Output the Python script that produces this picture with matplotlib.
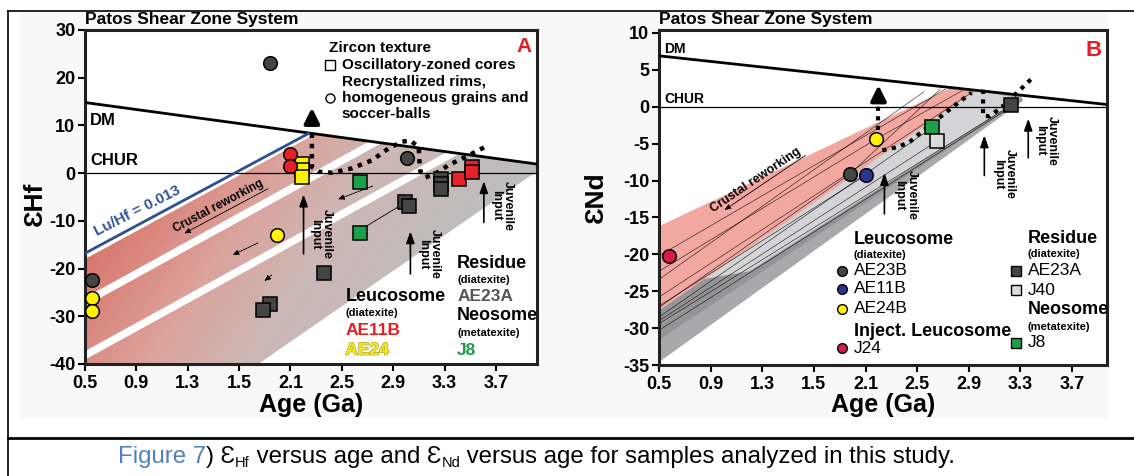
import numpy as np
import matplotlib
matplotlib.use("Agg")
import matplotlib.pyplot as plt
from matplotlib.patches import Polygon, Rectangle
from matplotlib.lines import Line2D
from matplotlib.colors import LinearSegmentedColormap
import matplotlib.patheffects as pe

plt.rcParams['font.family'] = ['Liberation Sans', 'DejaVu Sans']
plt.rcParams['axes.unicode_minus'] = False

W, H = 1134, 476

# ---------------- shared axis data ----------------
age_ticks = [0.5, 0.9, 1.3, 1.7, 2.1, 2.5, 2.9, 3.3, 3.7]
age_ticklabels = ['0.5', '0.9', '1.3', '1.5', '2.1', '2.5', '2.9', '3.3', '3.7']
hf_ticks = [-40, -30, -20, -10, 0, 10, 20, 30]
nd_ticks = [-35, -30, -25, -20, -15, -10, -5, 0, 5, 10]

# ---------------- panel A : epsilon Hf ----------------
dm_hf = (14.8, -3.665)          # value at 0.5 Ga, slope per Ga
luhf_age = [0.5, 2.24]
luhf_val = [-16.8, 8.3]
hf_band_top = [(-18.0, 14.6), (-27.9, 14.8), (-39.1, 14.8)]
hf_band_bot = [(-26.1, 14.8), (-37.3, 14.8), (-65.1, 18.6)]

ae11b_c_age, ae11b_c_hf = [2.10, 2.10], [4.1, 1.5]
ae11b_s_age, ae11b_s_hf = [3.41, 3.51, 3.51], [-1.3, 1.3, 0.3]
ae24_c_age, ae24_c_hf = [0.557, 0.557, 1.994], [-26.1, -28.9, -13.0]
ae24_s_age, ae24_s_hf = [2.19, 2.19, 2.19], [2.0, 0.6, -0.8]
ae23a_c_age, ae23a_c_hf = [1.94, 3.008, 0.557], [23.1, 3.1, -22.3]
ae23a_s_age = [3.27, 3.27, 3.27, 2.99, 3.02, 2.358, 1.94, 1.89]
ae23a_s_hf = [-1.3, -2.3, -3.4, -6.0, -6.9, -20.9, -27.5, -28.7]
j8_s_age, j8_s_hf = [2.644, 2.644], [-1.8, -12.6]

hf_dot_age = [2.267, 2.267, 2.319, 2.423, 2.579, 2.735, 2.865, 2.969, 3.034,
              3.099, 3.104, 3.112, 3.151, 3.229, 3.333, 3.463, 3.645]
hf_dot_val = [8.3, 1.3, 0.3, 0.1, 1.0, 2.7, 5.2, 6.6, 6.8,
              5.5, 2.7, 0.3, -0.9, -0.1, 1.7, 3.4, 5.9]
hf_juv = [(2.202, -17.5, -3.9, 2.34, -12.8), (3.034, -21.7, -11.6, 3.18, -17.0),
          (3.606, -10.9, -1.1, 3.75, -6.8)]
hf_small_arrows = [((1.943, -3.0), (1.254, -12.9)), ((1.865, -14.4), (1.63, -17.4)),
                   ((1.97, -21.0), (1.88, -23.0)), ((2.76, -2.5), (2.45, -5.7)),
                   ((2.98, -6.4), (2.60, -12.6))]

# ---------------- panel B : epsilon Nd ----------------
dm_nd = (6.9, -1.902)
nd_pink_top = (-16.2, 8.3)
nd_pink_bot = (-27.6, 12.18)
nd_light_bot = (-31.6, 11.58)
nd_gray_bot = (-34.6, 12.55)

nd_lines = [((0.5, -20.2), (2.72, 2.4)), ((0.5, -23.4), (2.55, 2.0)),
            ((0.5, -25.8), (2.93, 2.0)), ((0.5, -22.3), (2.18, -4.4)),
            ((0.5, -27.2), (1.98, -9.1)), ((0.5, -28.5), (2.62, -2.8)),
            ((0.5, -29.4), (3.23, 0.2)), ((0.5, -30.3), (3.23, 0.0)),
            ((0.5, -27.0), (2.10, -9.3)), ((0.5, -29.0), (2.65, -4.7)),
            ((2.18, -4.4), (2.85, 2.2)), ((1.98, -9.1), (2.68, 2.4))]

nd_circ_age = [1.98, 2.10, 2.18, 0.58]
nd_circ_val = [-9.1, -9.3, -4.4, -20.2]
nd_circ_col = ['#454545', '#2b3590', '#fff200', '#d81b4a']
nd_sq_age = [2.615, 2.65, 3.227]
nd_sq_val = [-2.8, -4.7, 0.18]
nd_sq_col = ['#1aa14a', '#dcdcdc', '#454545']

nd_dot1_age = [2.23, 2.34, 2.44, 2.54, 2.67, 2.80, 2.92]
nd_dot1_val = [-5.9, -5.5, -4.8, -3.3, -1.5, 0.3, 1.9]
nd_dot2_age = [3.01, 3.01, 3.06, 3.12, 3.17]
nd_dot2_val = [2.3, -1.2, -1.3, -0.5, 0.2]
nd_dot3_age = [3.25, 3.38]
nd_dot3_val = [1.5, 3.7]
nd_juv = [(2.246, -14.9, -8.6, 2.41, -12.0), (3.02, -9.7, -3.5, 3.17, -9.1),
          (3.36, -7.3, -1.25, 3.50, -4.6)]


def val(p, a):
    return p[0] + p[1] * (np.asarray(a) - 0.5)


def cross(p, q):
    return 0.5 + (q[0] - p[0]) / (p[1] - q[1])


def band_poly(top, bot, dm, a_max):
    a_t, a_b = cross(top, dm), cross(bot, dm)
    verts = [(0.5, val(top, 0.5)), (a_t, val(dm, a_t))]
    if a_b < a_max:
        verts.append((a_b, val(dm, a_b)))
    else:
        verts += [(a_max, val(dm, a_max)), (a_max, val(bot, a_max))]
    verts.append((0.5, val(bot, 0.5)))
    return verts


def style(ax, xmax, ylim, yticks):
    ax.set_xlim(0.5, xmax)
    ax.set_ylim(*ylim)
    ax.set_xticks(age_ticks)
    ax.set_xticklabels(age_ticklabels)
    ax.set_yticks(yticks)
    ax.set_yticklabels([str(v) for v in yticks])
    ax.tick_params(direction='out', length=5, width=1.5, labelsize=13)
    ax.tick_params(axis='x', pad=3)
    ax.tick_params(axis='y', pad=2)
    for lab in ax.get_xticklabels() + ax.get_yticklabels():
        lab.set_fontweight('bold')
    for s in ax.spines.values():
        s.set_linewidth(2.2)
        s.set_color('#222222')
    ax.set_facecolor('white')


def juvenile(ax, a, y0, y1, ta, tv):
    ax.annotate('', xy=(a, y1), xytext=(a, y0),
                arrowprops=dict(arrowstyle='-|>,head_length=0.7,head_width=0.25',
                                color='k', lw=1.2), zorder=6)
    ax.text(ta, tv, 'Juvenile\nInput', rotation=-90, ha='center', va='center',
            fontsize=9, fontweight='bold', linespacing=1.0, zorder=6)


fig = plt.figure(figsize=(W / 100, H / 100), dpi=100)
fig.add_artist(Rectangle((20 / W, 1 - 417 / H), 1087 / W, 405 / H,
                         transform=fig.transFigure, color='#f8f8f8', zorder=-10))
fig.add_artist(Line2D([8 / W, 1], [1 - 10.5 / H] * 2, color='k', lw=1.2))
fig.add_artist(Line2D([8 / W, 8 / W], [0, 1 - 10.5 / H], color='k', lw=1.2))
fig.add_artist(Line2D([8 / W, 1], [1 - 438 / H] * 2, color='k', lw=2))

ax_a = fig.add_axes([85 / W, 1 - 364 / H, 452 / W, 334 / H])
ax_b = fig.add_axes([659 / W, 1 - 365 / H, 448 / W, 335 / H])

# ======== panel A ========
band_cmap = LinearSegmentedColormap.from_list(
    'band', [(0, '#d9766d'), (0.35, '#dba39c'), (0.6, '#cdb7b4'), (1, '#bdbdbf')])
aa, vv = np.meshgrid(np.linspace(0.5, 4.02, 300), np.linspace(-40, 30, 300))
tt = 0.9 * (aa - 0.5) * 128.25 - 0.6 * vv * 4.77
for top, bot in zip(hf_band_top, hf_band_bot):
    poly = Polygon(band_poly(top, bot, dm_hf, 4.1), closed=True,
                   transform=ax_a.transData)
    im = ax_a.imshow(tt, extent=[0.5, 4.02, -40, 30], origin='lower',
                     aspect='auto', cmap=band_cmap, vmin=50, vmax=390,
                     interpolation='bilinear', zorder=1)
    im.set_clip_path(poly)

dm_x = np.array([0.5, 4.1])
ax_a.plot(dm_x, val(dm_hf, dm_x), color='k', lw=2, zorder=3)
ax_a.axhline(0, color='k', lw=0.9, zorder=3)
ax_a.plot(luhf_age, luhf_val, color='#2e4f92', lw=2, zorder=3)

ax_a.plot(hf_dot_age, hf_dot_val, color='k', lw=3.2, ls=(0, (1, 1.3)), zorder=4)
ax_a.annotate('', xy=(2.267, 14.3), xytext=(2.267, 9.6),
              arrowprops=dict(arrowstyle='-|>,head_length=0.9,head_width=0.45',
                              color='k', lw=3), zorder=4)
for (p0, p1) in hf_small_arrows:
    ax_a.annotate('', xy=p1, xytext=p0,
                  arrowprops=dict(arrowstyle='-|>,head_length=0.35,head_width=0.15',
                                  color='k', lw=0.7, ls=(0, (1.5, 1))), zorder=4)
for j in hf_juv:
    juvenile(ax_a, *j)

mk = dict(ls='none', mec='k', mew=1.1, zorder=7)
ax_a.plot(ae23a_c_age, ae23a_c_hf, 'o', ms=9.8, mfc='#454545', **mk)
ax_a.plot(ae23a_s_age, ae23a_s_hf, 's', ms=10.5, mfc='#454545', **mk)
ax_a.plot(j8_s_age, j8_s_hf, 's', ms=10.5, mfc='#1aa14a', **mk)
ax_a.plot(ae24_s_age, ae24_s_hf, 's', ms=10, mfc='#fff200', **mk)
ax_a.plot(ae24_c_age, ae24_c_hf, 'o', ms=9.8, mfc='#fff200', **mk)
ax_a.plot(ae11b_c_age, ae11b_c_hf, 'o', ms=9.8, mfc='#e8202a', **mk)
ax_a.plot(ae11b_s_age, ae11b_s_hf, 's', ms=10.5, mfc='#e8202a', **mk)

bold = dict(fontweight='bold', zorder=8)
ax_a.text(0.54, 11.1, 'DM', fontsize=12, va='center', **bold)
ax_a.text(0.54, 2.6, 'CHUR', fontsize=12, va='center', **bold)
ax_a.text(0.905, -8.0, 'Lu/Hf = 0.013', fontsize=11, color='#2e5597', rotation=27,
          ha='center', va='center', **bold)
ax_a.text(1.54, -7.0, 'Crustal reworking', fontsize=8.5, rotation=28,
          ha='center', va='center', **bold)
ax_a.text(2.397, 26.2, 'Zircon texture', fontsize=11, va='center', **bold)
ax_a.plot([2.41], [22.6], 's', ms=6.5, mfc='white', mec='k', mew=1, zorder=8)
ax_a.text(2.50, 22.6, 'Oscillatory-zoned cores', fontsize=11, va='center', **bold)
ax_a.text(2.50, 19.1, 'Recrystallized rims,', fontsize=11, va='center', **bold)
ax_a.plot([2.41], [15.7], 'o', ms=6.5, mfc='white', mec='k', mew=1, zorder=8)
ax_a.text(2.50, 15.7, 'homogeneous grains and', fontsize=11, va='center', **bold)
ax_a.text(2.50, 12.4, 'soccer-balls', fontsize=11, va='center', **bold)
ax_a.text(3.975, 26.5, 'A', fontsize=15, color='#e31e24', ha='right', va='center', **bold)

ax_a.text(3.398, -18.9, 'Residue', fontsize=13, va='center', **bold)
ax_a.text(3.398, -22.4, '(diatexite)', fontsize=8, va='center', **bold)
ax_a.text(3.398, -25.9, 'AE23A', fontsize=12.5, color='#555555', va='center', **bold)
ax_a.text(3.398, -29.8, 'Neosome', fontsize=13, va='center', **bold)
ax_a.text(3.398, -33.5, '(metatexite)', fontsize=8, va='center', **bold)
ax_a.text(3.398, -37.1, 'J8', fontsize=12.5, color='#1c9a48', va='center', **bold)
ax_a.text(2.527, -25.9, 'Leucosome', fontsize=13, va='center', **bold)
ax_a.text(2.527, -29.4, '(diatexite)', fontsize=8, va='center', **bold)
ax_a.text(2.527, -32.9, 'AE11B', fontsize=12.5, color='#e31e24', va='center', **bold)
ax_a.text(2.527, -37.1, 'AE24', fontsize=12.5, color='#f5ea1c', va='center',
          path_effects=[pe.withStroke(linewidth=1, foreground='#b0a640')], **bold)

style(ax_a, 4.02, (-40, 30), hf_ticks)

# ======== panel B ========
ax_b.add_patch(Polygon([(0.5, val(nd_gray_bot, 0.5)), (3.32, val(nd_gray_bot, 3.32)),
                        (3.30, val(dm_nd, 3.30)), (2.95, val(dm_nd, 2.95)),
                        (0.5, val(nd_pink_bot, 0.5))],
                       closed=True, fc='#a9a9ab', ec='none', zorder=1))
ax_b.add_patch(Polygon([(0.5, val(nd_pink_bot, 0.5)), (2.95, val(dm_nd, 2.95)),
                        (3.32, val(nd_light_bot, 3.32)), (0.5, val(nd_light_bot, 0.5))],
                       closed=True, fc='#959597', ec='none', zorder=1.1))
ax_b.add_patch(Polygon([(0.85, val(nd_pink_bot, 0.85)), (2.95, val(dm_nd, 2.95)),
                        (3.30, val(nd_light_bot, 3.30) + 0.3),
                        (1.2, val(nd_light_bot, 1.2) + 1.2)],
                       closed=True, fc='#d4d4d6', ec='none', zorder=1.2))
a_pk = cross(nd_pink_top, dm_nd)
ax_b.add_patch(Polygon([(0.5, val(nd_pink_top, 0.5)), (a_pk, val(dm_nd, a_pk)),
                        (2.95, val(dm_nd, 2.95)), (0.5, val(nd_pink_bot, 0.5))],
                       closed=True, fc='#f2a49c', ec='none', alpha=0.95, zorder=1.3))
for (p0, p1) in nd_lines:
    ax_b.plot([p0[0], p1[0]], [p0[1], p1[1]], color='k', lw=0.45, alpha=0.8, zorder=2)

dm_x = np.array([0.5, 4.0])
ax_b.plot(dm_x, val(dm_nd, dm_x), color='k', lw=2, zorder=3)
ax_b.axhline(0, color='k', lw=0.9, zorder=3)

dots = dict(color='k', lw=3, ls=(0, (1, 1.3)), zorder=4)
ax_b.plot([2.2, 2.2], [-3.2, 1.3], **dots)
ax_b.annotate('', xy=(2.2, 3.3), xytext=(2.2, 0.6),
              arrowprops=dict(arrowstyle='-|>,head_length=0.9,head_width=0.45',
                              color='k', lw=3), zorder=4)
ax_b.plot(nd_dot1_age, nd_dot1_val, **dots)
ax_b.plot(nd_dot2_age, nd_dot2_val, **dots)
ax_b.plot(nd_dot3_age, nd_dot3_val, **dots)
ax_b.annotate('', xy=(0.99, -14.2), xytext=(1.65, -6.4),
              arrowprops=dict(arrowstyle='-|>,head_length=0.35,head_width=0.15',
                              color='k', lw=0.7, ls=(0, (1.5, 1))), zorder=4)
for j in nd_juv:
    juvenile(ax_b, *j)

for a, v, c in zip(nd_circ_age, nd_circ_val, nd_circ_col):
    ax_b.plot([a], [v], 'o', ms=9.8, mfc=c, **mk)
for a, v, c in zip(nd_sq_age, nd_sq_val, nd_sq_col):
    ax_b.plot([a], [v], 's', ms=10.5, mfc=c, **mk)

ax_b.text(0.54, 7.8, 'DM', fontsize=10, va='center', **bold)
ax_b.text(0.54, 1.0, 'CHUR', fontsize=10, va='center', **bold)
ax_b.text(1.25, -9.9, 'Crustal reworking', fontsize=9, rotation=34,
          ha='center', va='center', **bold)
ax_b.text(3.93, 7.6, 'B', fontsize=16, color='#e31e24', ha='right', va='center', **bold)

lm = dict(ls='none', mec='k', mew=1, zorder=8)
ax_b.text(2.01, -18.0, 'Leucosome', fontsize=13, va='center', **bold)
ax_b.text(2.01, -20.1, '(diatexite)', fontsize=8, va='center', **bold)
leg_l_names = ['AE23B', 'AE11B', 'AE24B']
leg_l_vals = [-22.25, -24.7, -27.4]
for n, v, c in zip(leg_l_names, leg_l_vals, nd_circ_col[:3]):
    ax_b.plot([1.918], [v], 'o', ms=7, mfc=c, **lm)
    ax_b.text(2.01, v, n, fontsize=12.5, va='center', zorder=8)
ax_b.text(2.01, -30.4, 'Inject. Leucosome', fontsize=13, va='center', **bold)
ax_b.plot([1.918], [-32.75], 'o', ms=7, mfc=nd_circ_col[3], **lm)
ax_b.text(2.01, -32.75, 'J24', fontsize=12.5, va='center', zorder=8)

ax_b.text(3.355, -17.9, 'Residue', fontsize=13, va='center', **bold)
ax_b.text(3.355, -20.0, '(diatexite)', fontsize=8, va='center', **bold)
ax_b.plot([3.265], [-22.2], 's', ms=6.5, mfc='#454545', **lm)
ax_b.text(3.355, -22.2, 'AE23A', fontsize=12.5, va='center', zorder=8)
ax_b.plot([3.265], [-24.85], 's', ms=6.5, mfc='#dcdcdc', **lm)
ax_b.text(3.355, -24.85, 'J40', fontsize=12.5, va='center', zorder=8)
ax_b.text(3.355, -27.5, 'Neosome', fontsize=13, va='center', **bold)
ax_b.text(3.355, -29.8, '(metatexite)', fontsize=8, va='center', **bold)
ax_b.plot([3.265], [-32.0], 's', ms=6.5, mfc='#1aa14a', **lm)
ax_b.text(3.355, -32.0, 'J8', fontsize=12.5, va='center', zorder=8)

style(ax_b, 3.97, (-35, 10.4), nd_ticks)

# axis titles
for ax, ylab, yx, yy, xy_ in [(ax_a, 'ƐHf', -0.111, 0.48, -0.123),
                               (ax_b, 'ƐNd', -0.141, 0.50, -0.12)]:
    ax.text(yx, yy, ylab, transform=ax.transAxes, rotation=90, ha='center',
            va='center', fontsize=19, fontweight='bold')
    ax.text(0.5, xy_, 'Age (Ga)', transform=ax.transAxes, ha='center',
            va='center', fontsize=18, fontweight='bold')
    ax.text(0.0, 1.03, 'Patos Shear Zone System', transform=ax.transAxes,
            ha='left', va='center', fontsize=12.5, fontweight='bold')

# caption
cap_y = 1 - 463 / H
pieces = [('Figure 7', '#4f81bd', 17.3, 0), (') Ɛ', 'k', 17.3, 0), ('Hf', 'k', 10.5, -4),
          (' versus age and Ɛ', 'k', 17.3, 0), ('Nd', 'k', 10.5, -4),
          (' versus age for samples analyzed in this study.', 'k', 17.3, 0)]
prev = fig.text(118 / W, cap_y, pieces[0][0], color=pieces[0][1], fontsize=pieces[0][2],
                va='baseline')
for txt, col, fs, dy in pieces[1:]:
    prev = ax_a.annotate(txt, xy=(1, cap_y), xycoords=(prev, 'figure fraction'),
                         xytext=(0, dy), textcoords='offset pixels', color=col,
                         fontsize=fs, va='baseline', ha='left',
                         annotation_clip=False)

fig.savefig('out.png', dpi=100)
